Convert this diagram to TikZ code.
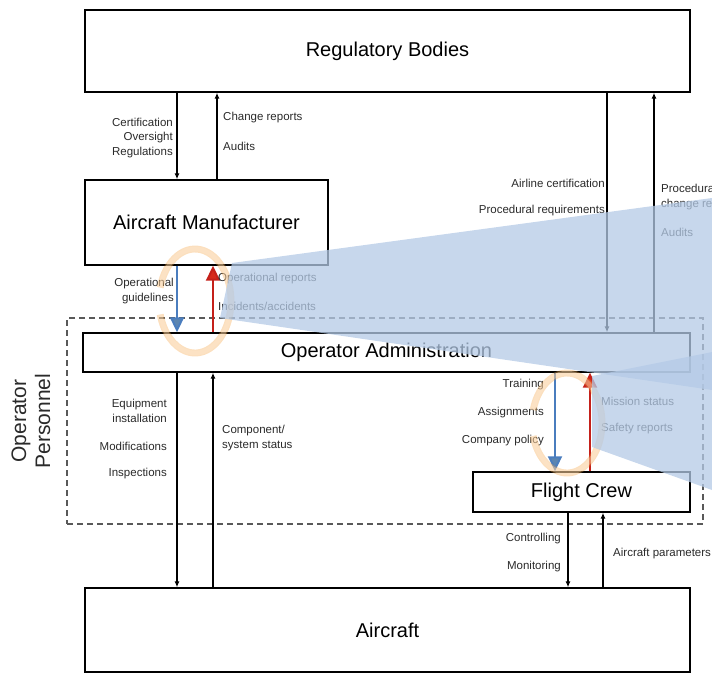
\documentclass[tikz,border=0pt]{standalone}
\usepackage{fontspec}
\setmainfont{Liberation Sans}
\usepackage{tikz}
\usetikzlibrary{positioning,arrows.meta}
\definecolor{arrowblue}{HTML}{4A7DBE}
\definecolor{headblue}{HTML}{5C85B0}
\definecolor{arrowred}{HTML}{C4201A}
\definecolor{headred}{HTML}{D62A1C}
\definecolor{ringorange}{HTML}{F5A444}
\definecolor{wedgeblue}{RGB}{180,202,230}
\definecolor{lbltext}{HTML}{2A2A2A}
\tikzstyle{box}=[draw, line width=1.4pt, inner sep=0pt, font=\fontsize{20}{24}\selectfont]
\tikzstyle{frame}=[draw=black!65, line width=1.2pt, dash pattern=on 6pt off 4pt, inner sep=0pt]
\tikzstyle{lbl}=[inner sep=0pt, text=lbltext, font=\fontsize{11.5}{14.5}\selectfont]
\tikzstyle{line}=[-{Latex[length=6pt,width=5pt]}, line width=1.1pt]
\tikzstyle{bluearrow}=[-{Triangle[length=15pt,width=14pt,fill=headblue]}, draw=arrowblue, line width=2pt]
\tikzstyle{redarrow}=[-{Triangle[length=15pt,width=14pt,fill=headred]}, draw=arrowred, line width=2pt]
\tikzstyle{ring}=[draw=ringorange, double=ringorange!25, double distance=4.5pt, line width=1.2pt, opacity=0.35]
\tikzstyle{wedge}=[fill=wedgeblue, opacity=0.75]

\begin{document}
\begin{tikzpicture}[x=1pt,y=-1pt]
            \useasboundingbox (0,0) rectangle (712,673);
            \clip (0,0) rectangle (712,673);

            % boxes
            \node[box, minimum width=605pt, minimum height=82pt] (rb) at (387.5,51) {Regulatory Bodies};
            \node[box, minimum width=243pt, minimum height=85pt] (am) at (206.5,222.5) {Aircraft Manufacturer};
            \node[frame, minimum width=636pt, minimum height=206pt] (personnel) at (385,421) {};
            \node[box, minimum width=607pt, minimum height=39pt] (oa) at (386.5,352.5) {Operator Administration};
            \node[box, minimum width=217pt, minimum height=40pt] (fc) at (581.5,492) {Flight Crew};
            \node[box, minimum width=605pt, minimum height=84pt] (ac) at (387.5,630) {Aircraft};
            \node[rotate=90, align=center, inner sep=0pt, text=lbltext, font=\fontsize{21}{24}\selectfont] (plabel) at (31,421) {Operator\\Personnel};

            % arrow columns
            \coordinate (xl) at (177,0);
            \coordinate (xr) at (213,0);
            \coordinate (xtop) at (217,0);
            \coordinate (xra) at (607,0);
            \coordinate (xrb) at (654,0);
            \coordinate (xfa) at (555,0);
            \coordinate (xfb) at (590,0);
            \coordinate (xca) at (568,0);
            \coordinate (xcb) at (603,0);

            \draw[line] (rb.south -| xl) -- (am.north -| xl);
            \draw[line] (am.north -| xtop) -- (rb.south -| xtop);
            \draw[line] (rb.south -| xra) -- (oa.north -| xra);
            \draw[line] (oa.north -| xrb) -- (rb.south -| xrb);
            \draw[line] (oa.south -| xl) -- (ac.north -| xl);
            \draw[line] (ac.north -| xr) -- (oa.south -| xr);
            \draw[line] (fc.south -| xca) -- (ac.north -| xca);
            \draw[line] (ac.north -| xcb) -- (fc.south -| xcb);
            \draw[bluearrow] (am.south -| xl) -- (oa.north -| xl);
            \draw[redarrow] (oa.north -| xr) -- (am.south -| xr);
            \draw[bluearrow] (oa.south -| xfa) -- (fc.north -| xfa);
            \draw[redarrow] (fc.north -| xfb) -- (oa.south -| xfb);

            % labels
            \node[lbl, align=right, anchor=east] (cert) at (173,138) {Certification\\Oversight\\Regulations};
            \node[lbl, anchor=west] (chg) at (223,118) {Change reports};
            \node[lbl, anchor=west] (aud) at (223,146) {Audits};
            \node[lbl, anchor=east] (alc) at (605,183) {Airline certification};
            \node[lbl, anchor=east] (preq) at (605,211) {Procedural requirements};
            \node[lbl, align=left, anchor=west] (pchg) at (661,197) {Procedural\\change reports};
            \node[lbl, anchor=west] (aud2) at (661,232) {Audits};
            \node[lbl, align=right, anchor=east] (opg) at (174,291) {Operational\\guidelines};
            \node[lbl, anchor=west] (opr) at (218,279) {Operational reports};
            \node[lbl, anchor=west] (inc) at (218,306) {Incidents/accidents};
            \node[lbl, align=right, anchor=east] (equ) at (167,411) {Equipment\\installation};
            \node[lbl, anchor=east] (mod) at (167,446) {Modifications};
            \node[lbl, anchor=east] (ins) at (167,474) {Inspections};
            \node[lbl, align=left, anchor=west] (cmp) at (222,438) {Component/\\system status};
            \node[lbl, anchor=east] (trn) at (544,385) {Training};
            \node[lbl, anchor=east] (asg) at (544,413) {Assignments};
            \node[lbl, anchor=east] (pol) at (544,441) {Company policy};
            \node[lbl, anchor=west] (mis) at (601,401) {Mission status};
            \node[lbl, anchor=west] (saf) at (601,429) {Safety reports};
            \node[lbl, anchor=east] (ctl) at (561,539) {Controlling};
            \node[lbl, anchor=east] (mon) at (561,567) {Monitoring};
            \node[lbl, anchor=west] (par) at (613,554) {Aircraft parameters};

            % highlight rings and zoom wedges
            \draw[ring] (195,301) ++(195:36 and 52) arc[start angle=195, end angle=525, x radius=36, y radius=52];
            \draw[ring] (567,423) ++(195:35 and 50) arc[start angle=195, end angle=525, x radius=35, y radius=50];
            \fill[wedge] (232,263) -- (712,198) -- (712,390) -- (220,318) -- cycle;
            \fill[wedge] (592,376) -- (712,352) -- (712,490) -- (592,447) -- cycle;
        \end{tikzpicture}
\end{document}
